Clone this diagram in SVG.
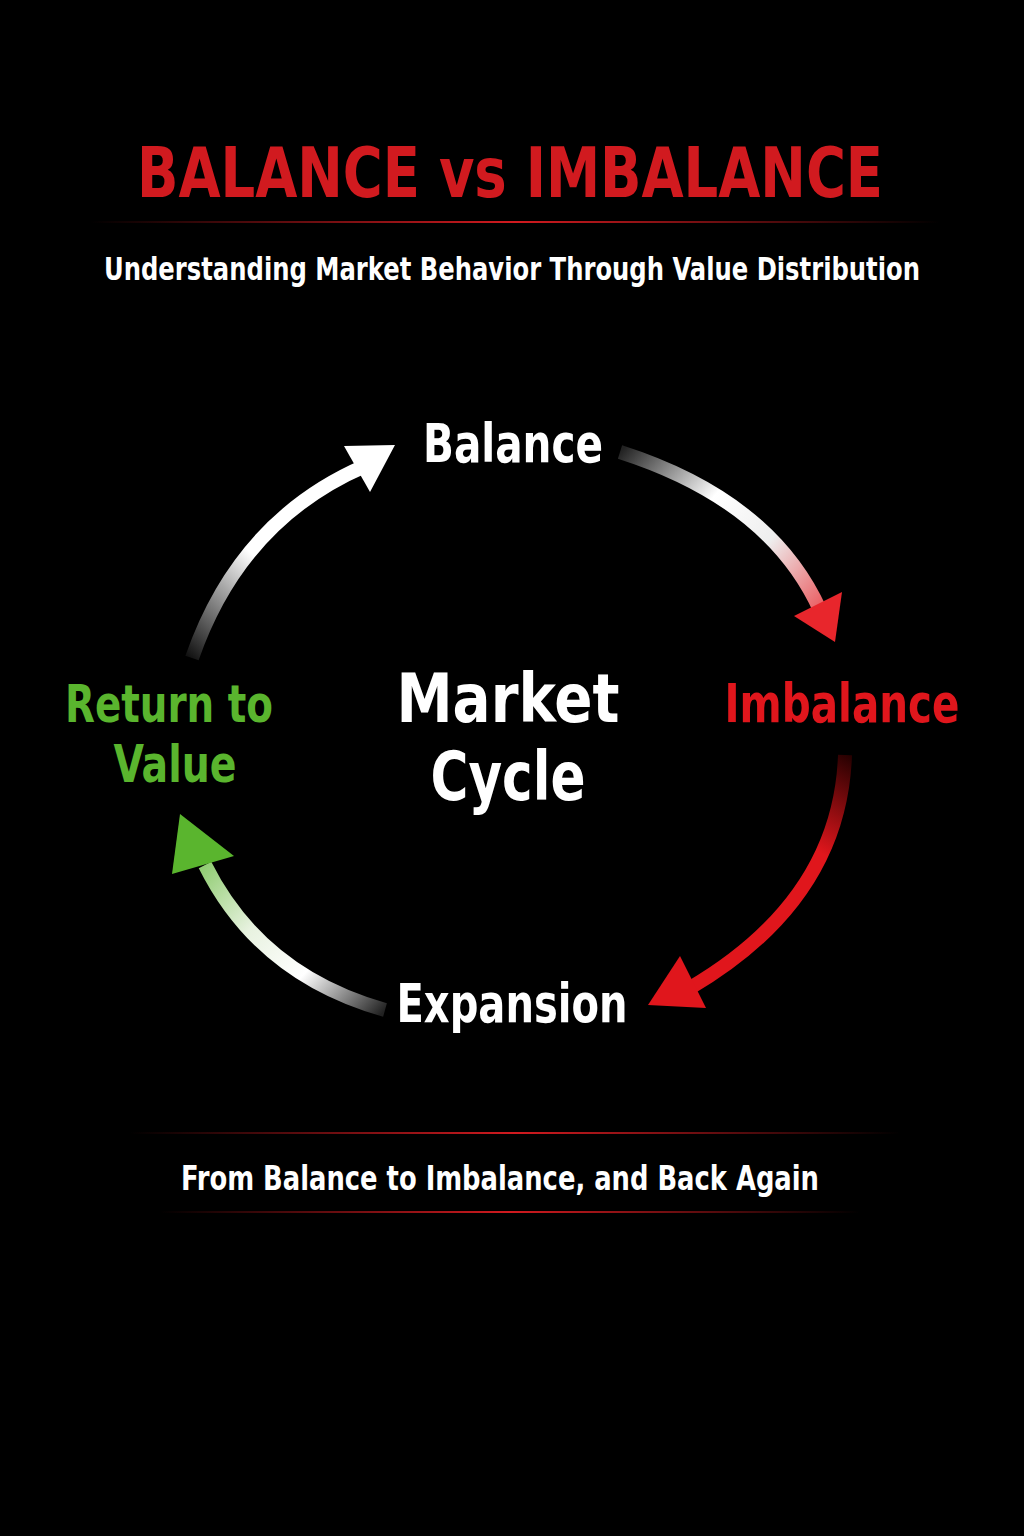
<svg xmlns="http://www.w3.org/2000/svg" width="1024" height="1536" viewBox="0 0 1024 1536">
<defs>
<linearGradient id="rl" x1="0" x2="1" y1="0" y2="0"><stop offset="0" stop-color="#d11a1f" stop-opacity="0"/><stop offset="0.5" stop-color="#d11a1f"/><stop offset="1" stop-color="#d11a1f" stop-opacity="0"/></linearGradient>
<linearGradient id="g1" gradientUnits="userSpaceOnUse" x1="620" y1="452" x2="835" y2="640"><stop offset="0" stop-color="#222"/><stop offset="0.35" stop-color="#fff"/><stop offset="0.6" stop-color="#eee"/><stop offset="1" stop-color="#e8262c"/></linearGradient>
<linearGradient id="g2" gradientUnits="userSpaceOnUse" x1="845" y1="750" x2="700" y2="1000"><stop offset="0" stop-color="#200"/><stop offset="0.35" stop-color="#e0161c"/><stop offset="1" stop-color="#e0161c"/></linearGradient>
<linearGradient id="g3" gradientUnits="userSpaceOnUse" x1="385" y1="1010" x2="180" y2="820"><stop offset="0" stop-color="#222"/><stop offset="0.3" stop-color="#fff"/><stop offset="0.55" stop-color="#e8f2e0"/><stop offset="1" stop-color="#5ab52e"/></linearGradient>
<linearGradient id="g4" gradientUnits="userSpaceOnUse" x1="192" y1="660" x2="395" y2="445"><stop offset="0" stop-color="#111"/><stop offset="0.4" stop-color="#fff"/><stop offset="1" stop-color="#fff"/></linearGradient>
<style>
text{font-family:"DejaVu Sans Condensed","Liberation Sans",sans-serif;font-weight:bold;text-anchor:middle}
.arc{fill:none;stroke-width:14;stroke-linecap:butt}
</style>
</defs>
<rect width="1024" height="1536" fill="#000"/>
<g id="header">
<text x="510" y="197" font-size="70" fill="#d11a1f" textLength="746" lengthAdjust="spacingAndGlyphs">BALANCE vs IMBALANCE</text>
<rect x="90" y="221" width="850" height="2" fill="url(#rl)"/>
<text x="512" y="280" font-size="32" fill="#fff" textLength="816" lengthAdjust="spacingAndGlyphs">Understanding Market Behavior Through Value Distribution</text>
</g>
<g id="connectors">
<path class="arc" stroke="url(#g1)" d="M620 452 Q770 500 820 610"/>
<polygon points="835,642 842,592 794,616" fill="#e8262c"/>
<path class="arc" stroke="url(#g2)" d="M845 755 Q840 900 690 988"/>
<polygon points="648,1005 706,1008 680,956" fill="#e0161c"/>
<path class="arc" stroke="url(#g3)" d="M385 1010 Q260 975 205 865"/>
<polygon points="180,814 172,874 234,856" fill="#5ab52e"/>
<path class="arc" stroke="url(#g4)" d="M192 658 Q240 520 365 466"/>
<polygon points="395,445 370,492 344,446" fill="#fff"/>
</g>
<g id="balance"><text x="513" y="462" font-size="54" fill="#fff" textLength="180" lengthAdjust="spacingAndGlyphs">Balance</text></g>
<g id="imbalance"><text x="842" y="722" font-size="54" fill="#e0161c" textLength="235" lengthAdjust="spacingAndGlyphs">Imbalance</text></g>
<g id="return"><text x="169" y="722" font-size="52" fill="#5ab52e" textLength="208" lengthAdjust="spacingAndGlyphs">Return to</text><text x="175" y="782" font-size="52" fill="#5ab52e" textLength="123" lengthAdjust="spacingAndGlyphs">Value</text></g>
<g id="center"><text x="508" y="722" font-size="68" fill="#fff" textLength="223" lengthAdjust="spacingAndGlyphs">Market</text><text x="508" y="800" font-size="68" fill="#fff" textLength="155" lengthAdjust="spacingAndGlyphs">Cycle</text></g>
<g id="expansion"><text x="512" y="1022" font-size="54" fill="#fff" textLength="231" lengthAdjust="spacingAndGlyphs">Expansion</text></g>
<g id="footer">
<rect x="130" y="1132" width="770" height="2" fill="url(#rl)"/>
<text x="500" y="1190" font-size="34" fill="#fff" textLength="638" lengthAdjust="spacingAndGlyphs">From Balance to Imbalance, and Back Again</text>
<rect x="160" y="1211" width="700" height="2" fill="url(#rl)"/>
</g>
</svg>
